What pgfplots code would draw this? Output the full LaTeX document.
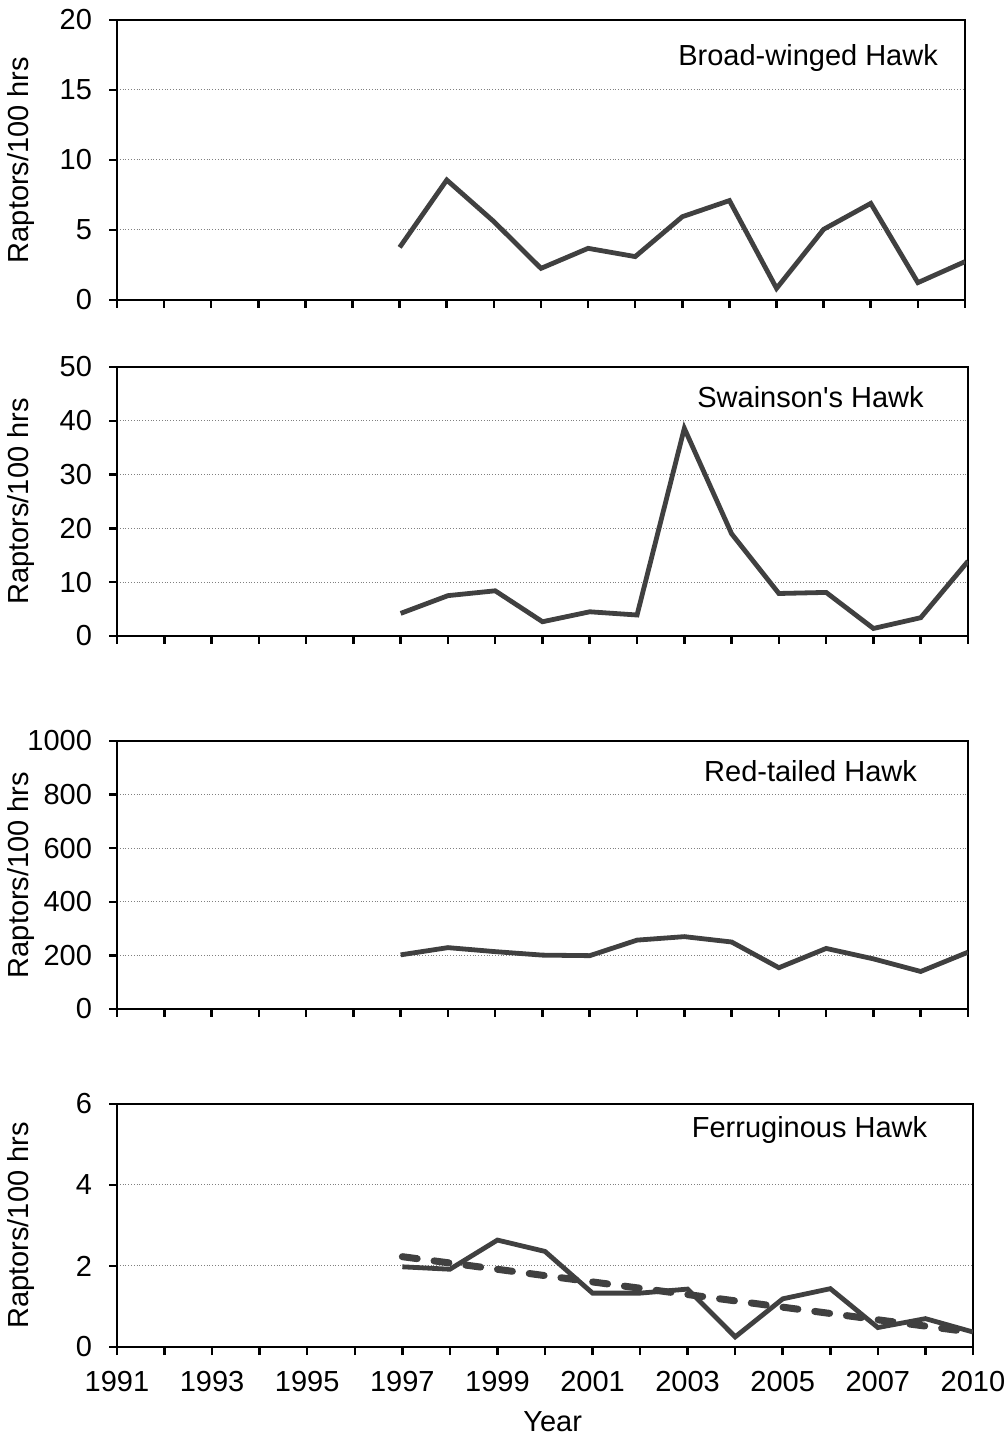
\documentclass[border=0pt]{standalone}
\usepackage{pgfplots}
\pgfplotsset{compat=1.18}
\usepackage{fontspec}
\setmainfont{Liberation Sans}
\definecolor{ln}{RGB}{64,64,64}
\newcommand{\fs}{\fontsize{14.5}{17}\selectfont}
\pgfplotsset{
  raptor/.style={
    scale only axis,
    xmin=1991, xmax=2009,
    xtick={1991,...,2009},
    axis line style={line width=1.25pt, black},
    every tick/.style={line width=1.25pt, black},
    major tick length=4pt,
    tick align=outside,
    xtick pos=bottom, ytick pos=left,
    ymajorgrids,
    grid style={densely dotted, line width=0.5pt, gray},
    /pgf/number format/assume math mode=true,
    /pgf/number format/set thousands separator={},
    tick label style={font=\fs},
    yticklabel style={xshift=-5pt},
    xticklabel style={yshift=-4.5pt},
    every axis y label/.style={at={(axis description cs:0,0.5)}, xshift=-48pt, rotate=90, anchor=center, font=\fs},
    ylabel={Raptors/100 hrs},
    ymin=0,
  },
  ser/.style={line width=2.4pt, ln, no markers},
}
\begin{document}
\begin{tikzpicture}
\path[use as bounding box] (0pt,0pt) rectangle (504pt,718.5pt);

% Panel 1
\begin{axis}[raptor, at={(58.5pt,568.5pt)}, anchor=south west, width=424pt, height=140pt,
  ymax=20, ytick={0,5,10,15,20}, xticklabels={}]
\addplot[ser] coordinates {(1997,3.76) (1998,8.57) (1999,5.6) (2000,2.26) (2001,3.69) (2002,3.1) (2003,5.95) (2004,7.1) (2005,0.83) (2006,5.05) (2007,6.9) (2008,1.24) (2009,2.74)};
\node[font=\fs] at (rel axis cs:0.815,0.864) {Broad-winged Hawk};
\end{axis}

% Panel 2
\begin{axis}[raptor, at={(58.5pt,400.5pt)}, anchor=south west, width=425.5pt, height=134.5pt,
  ymax=50, ytick={0,10,20,30,40,50}, xticklabels={}]
\addplot[ser] coordinates {(1997,4.2) (1998,7.5) (1999,8.4) (2000,2.65) (2001,4.5) (2002,3.9) (2003,38.6) (2004,19.0) (2005,7.9) (2006,8.1) (2007,1.4) (2008,3.4) (2009,13.9)};
\node[font=\fs] at (rel axis cs:0.815,0.888) {Swainson\textquotesingle s Hawk};
\end{axis}

% Panel 3
\begin{axis}[raptor, at={(58.5pt,214pt)}, anchor=south west, width=425.5pt, height=134pt,
  ymax=1000, ytick={0,200,400,600,800,1000}, xticklabels={}]
\addplot[ser] coordinates {(1997,202) (1998,229) (1999,214) (2000,201) (2001,199) (2002,257) (2003,270) (2004,250) (2005,154) (2006,226) (2007,187) (2008,140) (2009,212)};
\node[font=\fs] at (rel axis cs:0.815,0.889) {Red-tailed Hawk};
\end{axis}

% Panel 4
\begin{axis}[raptor, at={(58.5pt,45pt)}, anchor=south west, width=428pt, height=121.5pt,
  ymax=6, ytick={0,2,4,6},
  xticklabels={1991,,1993,,1995,,1997,,1999,,2001,,2003,,2005,,2007,,2010},
  xlabel={Year},
  every axis x label/.style={at={(axis description cs:0.509,0)}, anchor=north, yshift=-28.5pt, font=\fs}]
\addplot[ser] coordinates {(1997,1.98) (1998,1.92) (1999,2.64) (2000,2.36) (2001,1.33) (2002,1.33) (2003,1.43) (2004,0.25) (2005,1.19) (2006,1.44) (2007,0.48) (2008,0.70) (2009,0.37)};
\addplot[line width=3.5pt, ln, no markers, line cap=round, dash pattern=on 7.5pt off 8.5pt] coordinates {(1997,2.23) (2009,0.36)};
\node[font=\fs] at (rel axis cs:0.809,0.893) {Ferruginous Hawk};
\end{axis}
\end{tikzpicture}
\end{document}
